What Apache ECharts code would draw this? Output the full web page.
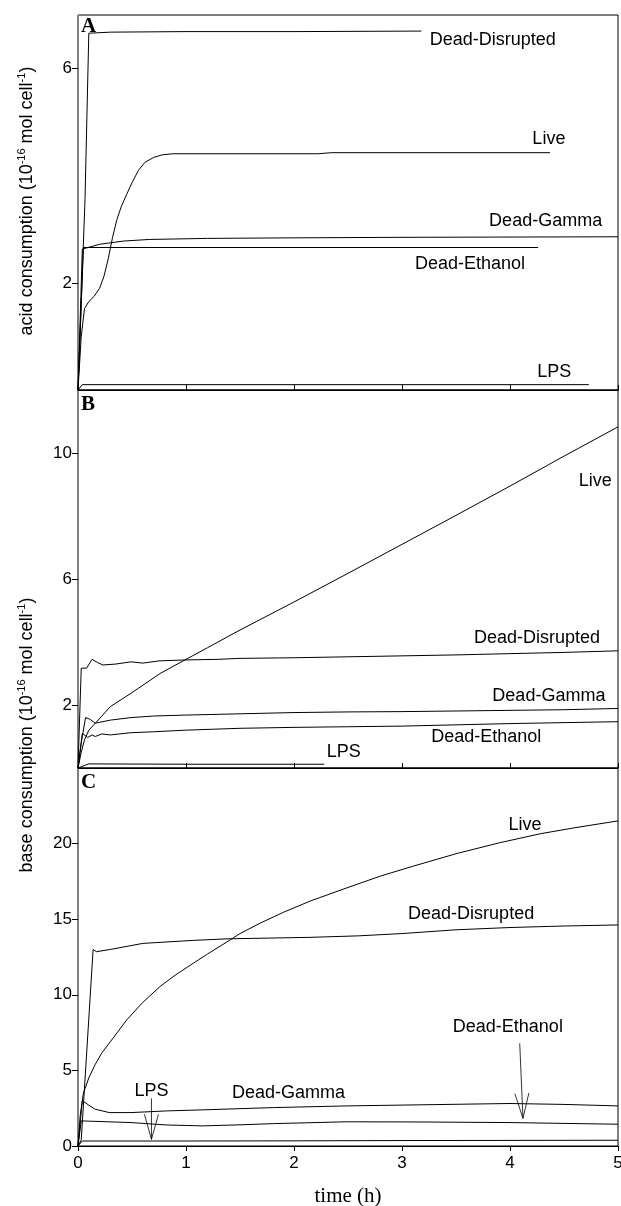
<!DOCTYPE html>
<html>
<head>
<meta charset="utf-8">
<script src="https://cdn.jsdelivr.net/npm/echarts@6/dist/echarts.min.js"></script>
<style>
html,body{margin:0;padding:0;background:#fff;}
#chart{width:621px;height:1206px;}
</style>
</head>
<body>
<div id="chart"></div>
<script>
// ---------- DATA ----------
const timeTicks = [0, 1, 2, 3, 4, 5];
const yTicksA = [2, 6];
const yTicksB = [2, 6, 10];
const yTicksC = [0, 5, 10, 15, 20];
const seriesNames = ['Dead-Disrupted', 'Live', 'Dead-Gamma', 'Dead-Ethanol', 'LPS'];

// Panel A: acid consumption [time h, value]
const A_Disrupted = [[0,0],[0.065,3.56],[0.1,6.66],[0.3,6.68],[1,6.69],[2,6.69],[3.18,6.7]];
const A_Live = [[0,0],[0.03,1.0],[0.06,1.52],[0.1,1.65],[0.15,1.75],[0.2,1.9],[0.24,2.12],[0.28,2.45],[0.32,2.85],[0.36,3.18],[0.4,3.42],[0.45,3.65],[0.5,3.87],[0.56,4.1],[0.62,4.25],[0.7,4.34],[0.78,4.39],[0.88,4.41],[2.22,4.41],[2.35,4.43],[4.37,4.43]];
const A_Gamma = [[0,0],[0.04,2.63],[0.2,2.72],[0.42,2.78],[0.66,2.81],[1.2,2.83],[1.98,2.84],[3,2.85],[5,2.86]];
const A_Ethanol = [[0,0],[0.05,2.66],[1,2.66],[2,2.66],[3,2.66],[4.26,2.66]];
const A_LPS = [[0,0],[0.04,0.1],[1,0.1],[4.73,0.1]];

// Panel B: base consumption
const B_Disrupted = [[0,0],[0.03,3.17],[0.08,3.17],[0.13,3.45],[0.18,3.35],[0.23,3.27],[0.35,3.3],[0.49,3.37],[0.6,3.33],[0.75,3.4],[0.99,3.43],[1.3,3.45],[1.5,3.48],[2,3.5],[2.5,3.53],[3,3.56],[3.5,3.59],[4,3.63],[4.5,3.67],[5,3.72]];
const B_Live = [[0,0],[0.03,0.5],[0.06,0.89],[0.1,1.2],[0.16,1.42],[0.3,1.95],[0.49,2.37],[0.76,3.0],[0.99,3.43],[1.2,3.82],[1.5,4.38],[2,5.27],[2.5,6.18],[3,7.1],[3.5,8.02],[4,8.95],[4.5,9.9],[5,10.83]];
const B_Gamma = [[0,0],[0.03,0.8],[0.07,1.6],[0.11,1.55],[0.16,1.42],[0.2,1.45],[0.3,1.52],[0.49,1.6],[0.7,1.65],[0.99,1.68],[1.5,1.72],[2,1.76],[2.5,1.78],[3,1.79],[3.5,1.81],[4,1.83],[4.5,1.85],[5,1.89]];
const B_Ethanol = [[0,0],[0.04,1.1],[0.09,0.97],[0.13,1.05],[0.16,1.0],[0.22,1.08],[0.3,1.05],[0.49,1.12],[0.7,1.15],[0.99,1.2],[1.5,1.26],[2,1.29],[2.5,1.31],[3,1.33],[3.5,1.37],[4,1.41],[4.5,1.44],[5,1.47]];
const B_LPS = [[0,0],[0.1,0.13],[1,0.12],[2.28,0.12]];

// Panel C: base consumption
const C_Disrupted = [[0,0],[0.03,0.4],[0.14,13.0],[0.17,12.85],[0.3,13.0],[0.6,13.4],[1.07,13.6],[1.38,13.7],[2.15,13.8],[2.6,13.9],[3.0,14.05],[3.5,14.3],[4.0,14.45],[4.5,14.55],[5,14.62]];
const C_Live = [[0,0],[0.02,2],[0.05,3.5],[0.1,4.5],[0.16,5.4],[0.22,6.15],[0.3,6.9],[0.45,8.33],[0.6,9.5],[0.76,10.55],[0.9,11.3],[1.07,12.1],[1.2,12.7],[1.38,13.5],[1.5,14.05],[1.69,14.75],[1.9,15.45],[2.15,16.2],[2.5,17.1],[2.8,17.85],[3.1,18.5],[3.51,19.35],[3.9,20.05],[4.28,20.65],[4.6,21.05],[5,21.5]];
const C_Gamma = [[0,0],[0.04,3.0],[0.1,2.7],[0.16,2.43],[0.29,2.21],[0.49,2.21],[0.82,2.32],[1.15,2.39],[1.81,2.54],[2.48,2.65],[3.14,2.72],[4.0,2.81],[4.5,2.75],[5,2.65]];
const C_Ethanol = [[0,0],[0.03,1.66],[0.49,1.55],[0.82,1.39],[1.15,1.33],[1.5,1.4],[1.81,1.48],[2.48,1.6],[3.14,1.59],[4.0,1.55],[5,1.44]];
const C_LPS = [[0,0],[0.04,0.33],[1,0.33],[2,0.34],[3,0.36],[4,0.37],[5,0.38]];

// Curve labels [time, value] and texts
const A_labelPos = [[3.84,6.54],[4.36,4.69],[4.33,3.15],[3.63,2.35],[4.41,0.34]];
const A_labelText = ['Dead-Disrupted','Live','Dead-Gamma','Dead-Ethanol','LPS'];
const B_labelPos = [[4.79,9.11],[4.25,4.12],[4.36,2.30],[3.78,0.97],[2.46,0.52]];
const B_labelText = ['Live','Dead-Disrupted','Dead-Gamma','Dead-Ethanol','LPS'];
const C_labelPos = [[4.14,21.2],[3.64,15.34],[3.98,7.85],[0.68,3.66],[1.95,3.48]];
const C_labelText = ['Live','Dead-Disrupted','Dead-Ethanol','LPS','Dead-Gamma'];
// Arrows in panel C [x1, y1, x2(tip), y2(tip)]
const C_arrows = [[0.68,3.15,0.68,0.44],[4.09,6.79,4.12,1.83]];

// ---------- CHART ----------
const SANS = 'Liberation Sans, Arial, sans-serif';
const SERIF = 'Liberation Serif, Times New Roman, serif';
const chart = echarts.init(document.getElementById('chart'), null, {renderer: 'canvas'});

const grids = [
  {left: 78, right: 3, top: 15, height: 375},
  {left: 78, right: 3, top: 390, height: 378},
  {left: 78, right: 3, top: 768, height: 378}
];
const yMax = [7, 12, 25];
const yTicks = [yTicksA, yTicksB, yTicksC];

const xAxes = grids.map((g, i) => ({
  type: 'value', gridIndex: i, min: 0, max: 5, interval: 1,
  axisLine: {show: true, onZero: false, lineStyle: {color: '#000', width: 1}},
  axisTick: {show: true, inside: i < 2, length: 5, lineStyle: {color: '#000'}},
  axisLabel: {show: i === 2, fontSize: 17, fontFamily: SANS, color: '#000', margin: 9,
    customValues: timeTicks},
  splitLine: {show: false},
  name: i === 2 ? 'time (h)' : '',
  nameLocation: 'middle', nameGap: 40,
  nameTextStyle: {fontFamily: SERIF, fontSize: 21, color: '#000'}
}));

const yAxes = grids.map((g, i) => ({
  type: 'value', gridIndex: i, min: 0, max: yMax[i],
  axisLine: {show: true, lineStyle: {color: '#808080', width: 1}},
  axisTick: {show: true, length: 6, customValues: yTicks[i], lineStyle: {color: '#000'}},
  axisLabel: {fontSize: 17, fontFamily: SANS, color: '#000', margin: 6, customValues: yTicks[i]},
  splitLine: {show: false}
}));

function lineSeries(data, gi) {
  return {type: 'line', xAxisIndex: gi, yAxisIndex: gi, data: data, showSymbol: false,
    symbol: 'none', lineStyle: {color: '#000', width: 1}, silent: true, clip: true};
}
function labelSeries(pos, texts, gi) {
  return {type: 'custom', xAxisIndex: gi, yAxisIndex: gi, data: pos, silent: true, clip: false,
    renderItem: function (params, api) {
      const p = api.coord([api.value(0), api.value(1)]);
      return {type: 'text', x: p[0], y: p[1], style: {text: texts[params.dataIndex],
        fill: '#000', font: '18px ' + SANS, align: 'center', verticalAlign: 'middle'}};
    }};
}
function arrowSeries(arrows, gi) {
  return {type: 'custom', xAxisIndex: gi, yAxisIndex: gi, data: arrows, silent: true, clip: false,
    encode: {x: [0, 2], y: [1, 3]},
    renderItem: function (params, api) {
      const a = api.coord([api.value(0), api.value(1)]);
      const b = api.coord([api.value(2), api.value(3)]);
      const dx = b[0] - a[0], dy = b[1] - a[1];
      const L = Math.sqrt(dx * dx + dy * dy);
      const ux = dx / L, uy = dy / L;
      const hl = 25, hw = 7;
      const c1 = [b[0] - ux * hl - uy * hw, b[1] - uy * hl + ux * hw];
      const c2 = [b[0] - ux * hl + uy * hw, b[1] - uy * hl - ux * hw];
      const st = {stroke: '#000', lineWidth: 0.8};
      return {type: 'group', children: [
        {type: 'line', shape: {x1: a[0], y1: a[1], x2: b[0], y2: b[1]}, style: st},
        {type: 'line', shape: {x1: c1[0], y1: c1[1], x2: b[0], y2: b[1]}, style: st},
        {type: 'line', shape: {x1: c2[0], y1: c2[1], x2: b[0], y2: b[1]}, style: st}
      ]};
    }};
}

const supRich = {
  n: {fontSize: 18, fontFamily: SANS, color: '#000', lineHeight: 22},
  s: {fontSize: 11, fontFamily: SANS, color: '#000', lineHeight: 11, verticalAlign: 'top'}
};
function yTitle(txt, x, y) {
  return {type: 'text', x: x, y: y, rotation: Math.PI / 2, silent: true,
    style: {text: '{n|' + txt + ' (10}{s|-16}{n| mol cell}{s|-1}{n|)}', rich: supRich,
      align: 'center', verticalAlign: 'middle', fill: '#000'}};
}
function panelLetter(t, x, y) {
  return {type: 'text', x: x, y: y, silent: true,
    style: {text: t, font: 'bold 21px ' + SERIF, fill: '#000', align: 'left', verticalAlign: 'top'}};
}

chart.setOption({
  animation: false,
  backgroundColor: '#fff',
  grid: grids.map(g => Object.assign({show: true, borderColor: '#000', borderWidth: 1,
    backgroundColor: 'transparent', containLabel: false, outerBoundsMode: 'none'}, g)),
  xAxis: xAxes,
  yAxis: yAxes,
  series: [
    lineSeries(A_Disrupted, 0), lineSeries(A_Live, 0), lineSeries(A_Gamma, 0),
    lineSeries(A_Ethanol, 0), lineSeries(A_LPS, 0),
    lineSeries(B_Disrupted, 1), lineSeries(B_Live, 1), lineSeries(B_Gamma, 1),
    lineSeries(B_Ethanol, 1), lineSeries(B_LPS, 1),
    lineSeries(C_Disrupted, 2), lineSeries(C_Live, 2), lineSeries(C_Gamma, 2),
    lineSeries(C_Ethanol, 2), lineSeries(C_LPS, 2),
    labelSeries(A_labelPos, A_labelText, 0),
    labelSeries(B_labelPos, B_labelText, 1),
    labelSeries(C_labelPos, C_labelText, 2),
    arrowSeries(C_arrows, 2)
  ],
  graphic: [
    yTitle('acid consumption', 27, 201),
    yTitle('base consumption', 27, 735),
    panelLetter('A', 81, 16),
    panelLetter('B', 81, 394),
    panelLetter('C', 81, 772)
  ]
});
</script>
</body>
</html>
